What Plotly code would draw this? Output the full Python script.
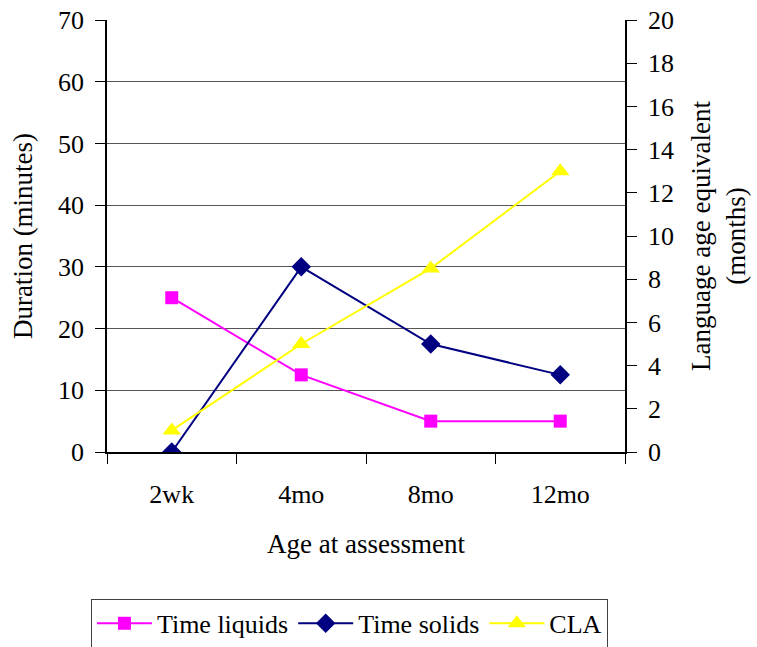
import plotly.graph_objects as go

categories = ["2wk", "4mo", "8mo", "12mo"]
time_liquids = [25, 12.5, 5, 5]
time_solids = [0, 30, 17.5, 12.5]
cla = [1.0, 5.0, 8.5, 13.0]

FONT = "Liberation Serif, Times New Roman, serif"

fig = go.Figure()
fig.add_trace(go.Scatter(x=categories, y=time_liquids, name="Time liquids", mode="lines+markers",
                         line=dict(color="#FF00FF", width=2),
                         marker=dict(symbol="square", size=13, color="#FF00FF")))
fig.add_trace(go.Scatter(x=categories, y=time_solids, name="Time solids", mode="lines+markers",
                         line=dict(color="#000080", width=2),
                         marker=dict(symbol="diamond", size=15, color="#000080")))
fig.add_trace(go.Scatter(x=categories, y=cla, name="CLA", mode="lines+markers", yaxis="y2",
                         line=dict(color="#FFFF00", width=2),
                         marker=dict(symbol="triangle-up", size=16, color="#FFFF00")))

fig.update_layout(
    width=757, height=647,
    margin=dict(l=107, r=132, t=20, b=195, autoexpand=False),
    paper_bgcolor="white", plot_bgcolor="white",
    font=dict(family=FONT, size=26, color="black"),
    showlegend=True,
    legend=dict(orientation="h", x=-0.031, xanchor="left", y=-0.34, yanchor="top",
                bordercolor="#404040", borderwidth=1, bgcolor="white",
                font=dict(size=26), itemwidth=55, tracegroupgap=0),
    xaxis=dict(type="category", categoryorder="array", categoryarray=categories,
               range=[-0.5, 3.5], tickson="boundaries", ticks="outside", ticklen=10,
               tickcolor="black", showline=True, linecolor="black", linewidth=1.5,
               showgrid=False, zeroline=False, ticklabelstandoff=18,
               title=dict(text="Age at assessment", standoff=26, font=dict(size=27)),
               tickfont=dict(size=26)),
    xaxis2=dict(type="category", categoryorder="array", categoryarray=categories,
                overlaying="x", range=[-0.5, 3.5], tickson="boundaries", ticks="inside",
                ticklen=9, tickcolor="black", showticklabels=False, showgrid=False,
                showline=False, zeroline=False, side="bottom", anchor="y"),
    yaxis=dict(range=[0, 70], dtick=10, ticks="outside", ticklen=10, tickcolor="black",
               showline=True, linecolor="black", linewidth=1.5,
               showgrid=True, gridcolor="#555555", gridwidth=1, zeroline=False,
               ticklabelstandoff=6,
               title=dict(text="Duration (minutes)", standoff=18, font=dict(size=27)),
               tickfont=dict(size=26)),
    yaxis2=dict(range=[0, 20], dtick=2, overlaying="y", side="right", ticks="outside",
                ticklen=10, tickcolor="black", showline=True, linecolor="black",
                linewidth=1.5, showgrid=False, zeroline=False, ticklabelstandoff=6,
                title=dict(text="Language age equivalent<br>(months)", standoff=18,
                           font=dict(size=27)),
                tickfont=dict(size=26)),
    yaxis3=dict(range=[0, 20], dtick=2, overlaying="y", side="right", anchor="x",
                ticks="inside", ticklen=8, tickcolor="black", showticklabels=False,
                showgrid=False, showline=False, zeroline=False),
)

fig.write_html("out.html")
